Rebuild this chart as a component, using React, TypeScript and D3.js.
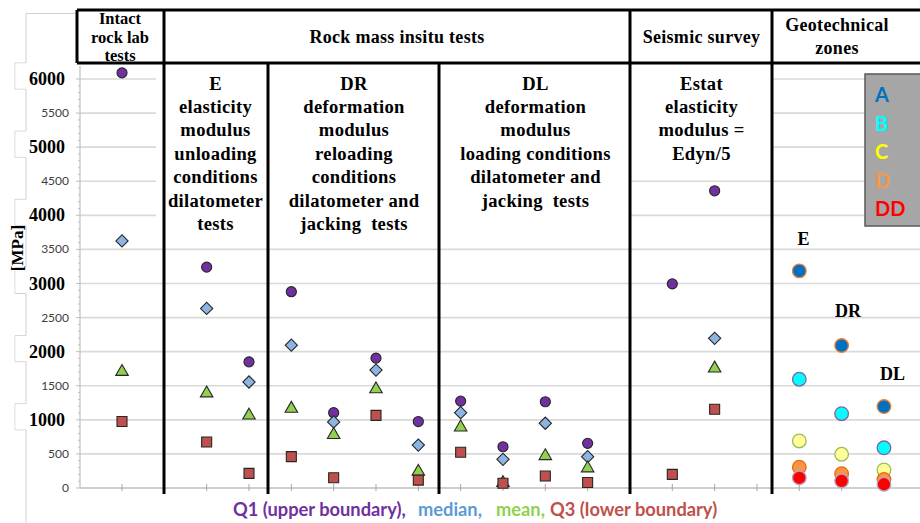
import React from "react";
import * as d3 from "d3";

// ---- data ----
const catX = [1, 3, 4, 5, 6, 7, 8, 9, 10, 11, 12, 14, 15];
const q1 = [6090, 3240, 1850, 2880, 1105, 1905, 975, 1275, 605, 1265, 655, 2995, 4360];
const median = [3625, 2635, 1555, 2095, 970, 1730, 630, 1105, 420, 950, 460, null, 2195];
const mean = [1705, 1390, 1065, 1165, 780, 1450, 240, 890, 75, 470, 290, null, 1755];
const q3 = [975, 675, 215, 460, 150, 1065, 115, 525, 70, 175, 80, 200, 1155];

const zoneX = [17, 18, 19];
const zoneA = [3185, 2090, 1195];
const zoneB = [1595, 1090, 590];
const zoneC = [690, 495, 265];
const zoneD = [305, 210, 125];
const zoneDD = [150, 105, 55];
const zoneNames = ["A", "B", "C", "D", "DD"];
const zoneLabels = [
  { text: "E", x: 17.1, v: 3660 },
  { text: "DR", x: 18.15, v: 2590 },
  { text: "DL", x: 19.2, v: 1670 },
];

const majorTicks = [1000, 2000, 3000, 4000, 5000, 6000];
const minorTicks = [0, 500, 1500, 2500, 3500, 4500, 5500];
const dividerX = [2, 4.45, 8.5, 13, 16.36];

const headerTop = [
  { lines: ["Intact", "rock lab", "tests"], x0: 77, x1: 163 },
  { lines: ["Rock mass insitu tests"], x0: 163, x1: 631 },
  { lines: ["Seismic survey"], x0: 631, x1: 772 },
  { lines: ["Geotechnical", "zones"], x0: 772, x1: 902 },
];
const panelTexts = [
  { lines: ["E", "elasticity", "modulus", "unloading", "conditions", "dilatometer", "tests"], x0: 163, x1: 268, bottom: 236 },
  { lines: ["DR", "deformation", "modulus", "reloading", "conditions", "dilatometer and", "jacking  tests"], x0: 268, x1: 440, bottom: 236 },
  { lines: ["DL", "deformation", "modulus", "loading conditions", "dilatometer and", "jacking  tests"], x0: 440, x1: 631, bottom: 236 },
  { lines: ["Estat", "elasticity", "modulus =", "Edyn/5"], x0: 631, x1: 772, bottom: 170 },
];
const captionParts = [
  { text: "Q1 (upper boundary),", color: "#7030A0", x: 233 },
  { text: "median,", color: "#5B9BD5", x: 418 },
  { text: "mean,", color: "#92D050", x: 496 },
  { text: "Q3 (lower boundary)", color: "#C0504D", x: 550 },
];

const W = 920;
const H = 523;
const serif = "'Liberation Serif', 'Times New Roman', serif";
const sans = "Lato, 'Open Sans', sans-serif";

export default function App() {
  const x = d3.scaleLinear().domain([0, 20]).range([79.67, 926.3]);
  const y = d3.scaleLinear().domain([0, 6000]).range([488, 79]);

  const gridVals = d3.range(500, 6001, 500);
  const minor = d3.range(0, 6001, 100);

  const sym = (t: any, size: number) => d3.symbol().type(t).size(size)() as string;
  const circlePath = sym(d3.symbolCircle, 80);
  const diamondPath = sym(d3.symbolSquare, 75);
  const trianglePath = sym(d3.symbolTriangle, 68);
  const squarePath = sym(d3.symbolSquare, 100);

  const statSeries = [
    { vals: q1, path: circlePath, fill: "#7030A0", rot: 0 },
    { vals: median, path: diamondPath, fill: "#8DB4E2", rot: 45 },
    { vals: mean, path: trianglePath, fill: "#92D050", rot: 0 },
    { vals: q3, path: squarePath, fill: "#C0504D", rot: 0 },
  ];
  const zoneSeries = [
    { vals: zoneA, fill: "#0070C0", stroke: "#ED7D31" },
    { vals: zoneB, fill: "#00FFFF", stroke: "#8064A2" },
    { vals: zoneC, fill: "#FFFF99", stroke: "#9BBB59" },
    { vals: zoneD, fill: "#F79646", stroke: "#E46C0A" },
    { vals: zoneDD, fill: "#FF0000", stroke: "#B3A2C7" },
  ];
  const zoneTextColors = ["#0070C0", "#00FFFF", "#FFFF00", "#F79646", "#FF0000"];

  // stepped outline of left label boxes
  let outline = `M77,13.5 L26,13.5`;
  majorTicks
    .slice()
    .sort((a, b) => b - a)
    .forEach((v) => {
      const cy = y(v);
      outline += ` L26,${cy - 16} L15,${cy - 16} L15,${cy + 10} L26,${cy + 10}`;
    });
  outline += ` L26,523`;

  return (
    <svg width={W} height={H} style={{ position: "absolute", left: 0, top: 0, background: "#fff" }}>
      <rect x={0} y={0} width={W} height={H} fill="#fff" />
      {/* gridlines */}
      {gridVals.map((v) => (
        <line key={"g" + v} x1={80} x2={W} y1={y(v)} y2={y(v)} stroke="#D9D9D9" strokeWidth={1.6} />
      ))}
      {/* masks over text areas */}
      <rect x={156} y={63} width={7} height={173} fill="#fff" />
      {panelTexts.map((p, i) => (
        <rect key={"m" + i} x={p.x0} y={63} width={p.x1 - p.x0} height={p.bottom - 63} fill="#fff" />
      ))}
      {/* y axis */}
      <line x1={80} x2={80} y1={66} y2={488} stroke="#BFBFBF" strokeWidth={1.2} />
      {minor.map((v) => (
        <line key={"mt" + v} x1={v % 500 === 0 ? 76 : 78} x2={80} y1={y(v)} y2={y(v)} stroke="#BFBFBF" strokeWidth={1} />
      ))}
      {/* x axis */}
      <line x1={80} x2={W} y1={488} y2={488} stroke="#BFBFBF" strokeWidth={1.5} />
      {d3.range(1, 20).map((v) => (
        <line key={"xt" + v} x1={x(v)} x2={x(v)} y1={484} y2={491} stroke="#A6A6A6" strokeWidth={1} />
      ))}
      {/* left label boxes */}
      <path d={outline} fill="none" stroke="#D0D0D0" strokeWidth={1} />
      {majorTicks.map((v) => (
        <rect key={"lb" + v} x={15.5} y={y(v) - 15.5} width={56} height={25} fill="#fff" />
      ))}
      {minorTicks.map((v) => (
        <text key={"st" + v} x={69} y={y(v) + 4} textAnchor="end" fontFamily={sans} fontSize={12} fill="#404040">
          {v}
        </text>
      ))}
      {majorTicks.map((v) => (
        <text key={"bt" + v} x={65} y={y(v) + 6} textAnchor="end" fontFamily={serif} fontWeight="bold" fontSize={18} fill="#000">
          {v}
        </text>
      ))}
      <text transform="translate(23,248) rotate(-90)" textAnchor="middle" fontFamily={serif} fontWeight="bold" fontSize={17} fill="#000">
        [MPa]
      </text>
      {/* header & dividers */}
      <g stroke="#000" strokeWidth={3} fill="none">
        <line x1={77} x2={W} y1={10} y2={10} />
        <line x1={77} x2={W} y1={63} y2={63} />
        <line x1={77} x2={77} y1={10} y2={63} />
        {dividerX.map((d, i) => (
          <line key={"d" + i} x1={Math.round(x(d))} x2={Math.round(x(d))} y1={i === 1 || i === 2 ? 63 : 10} y2={494} />
        ))}
      </g>
      {headerTop.map((h, i) => {
        const cx = (h.x0 + h.x1) / 2;
        const n = h.lines.length;
        const lh = n === 3 ? 18.5 : 23;
        const y0 = 37 - ((n - 1) * lh) / 2 + 5.5;
        return (
          <text
            key={"h" + i}
            textAnchor="middle"
            fontFamily={serif}
            fontWeight="bold"
            fontSize={n === 3 ? 16.5 : 18}
            letterSpacing={n === 3 ? 0 : 0.3}
            fill="#000"
          >
            {h.lines.map((l, j) => (
              <tspan key={j} x={cx} y={y0 + j * lh}>
                {l}
              </tspan>
            ))}
          </text>
        );
      })}
      {panelTexts.map((p, i) => {
        const cx = (p.x0 + p.x1) / 2;
        return (
          <text key={"p" + i} textAnchor="middle" fontFamily={serif} fontWeight="bold" fontSize={18.6} letterSpacing={0.3} fill="#000">
            {p.lines.map((l, j) => (
              <tspan key={j} x={cx} y={89.5 + j * 23.4} style={{ whiteSpace: "pre" }}>
                {l}
              </tspan>
            ))}
          </text>
        );
      })}
      {/* stat markers */}
      {statSeries.map((s, si) => (
        <g key={"s" + si}>
          {catX.map((cx, i) =>
            s.vals[i] == null ? null : (
              <path
                key={i}
                d={s.path}
                transform={`translate(${x(cx)},${y(s.vals[i] as number)}) rotate(${s.rot})`}
                fill={s.fill}
                stroke="#262626"
                strokeWidth={1.1}
              />
            )
          )}
        </g>
      ))}
      {/* zone markers */}
      {zoneSeries.map((s, si) => (
        <g key={"z" + si}>
          {zoneX.map((zx, i) => (
            <circle key={i} cx={x(zx)} cy={y(s.vals[i])} r={6.8} fill={s.fill} stroke={s.stroke} strokeWidth={1.3} />
          ))}
        </g>
      ))}
      {zoneLabels.map((z, i) => (
        <text key={"zl" + i} x={x(z.x)} y={y(z.v) + 6} textAnchor="middle" fontFamily={serif} fontWeight="bold" fontSize={18} fill="#000">
          {z.text}
        </text>
      ))}
      {/* zone legend */}
      <rect x={865} y={74} width={70} height={152} fill="#A6A6A6" stroke="#595959" strokeWidth={1.5} />
      {zoneNames.map((n, i) => (
        <text key={"zn" + i} x={875} y={102 + i * 28.6} fontFamily={sans} fontWeight="bold" fontSize={20} fill={zoneTextColors[i]}>
          {n}
        </text>
      ))}
      {/* caption */}
      {captionParts.map((c, i) => (
        <text key={"c" + i} x={c.x} y={516} fontFamily={sans} fontWeight="bold" fontSize={18.3} fill={c.color}>
          {c.text}
        </text>
      ))}
    </svg>
  );
}
